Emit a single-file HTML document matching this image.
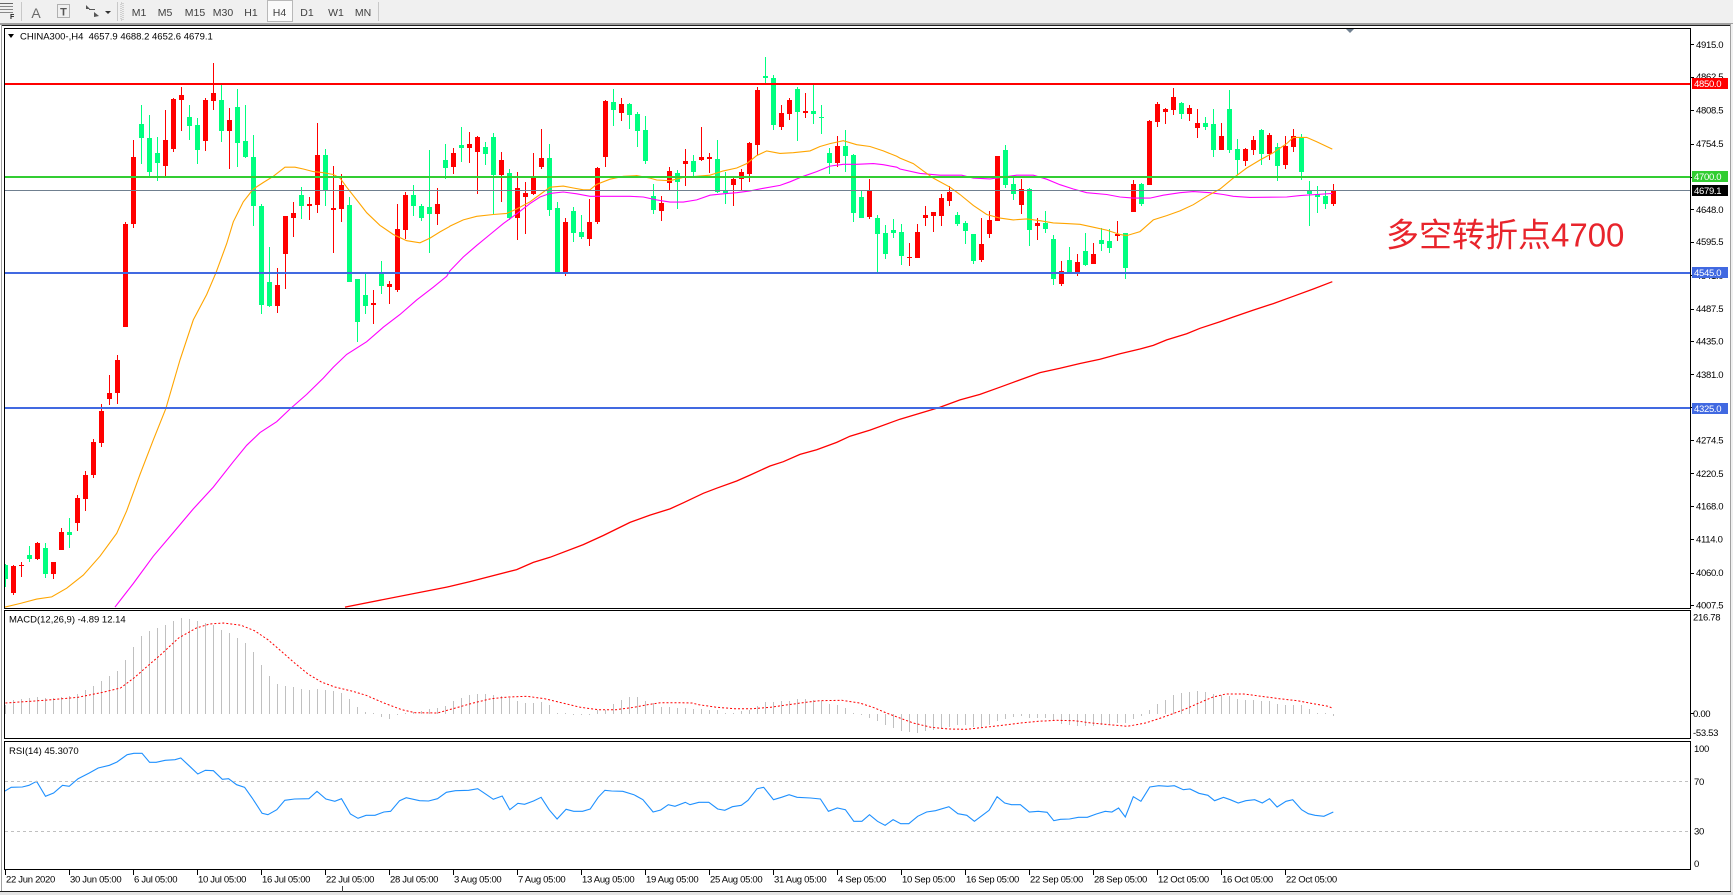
<!DOCTYPE html>
<html><head><meta charset="utf-8"><title>CHINA300 H4</title>
<style>
html,body{margin:0;padding:0;background:#fff;}
body{width:1733px;height:895px;overflow:hidden;}
svg{display:block;font-family:"Liberation Sans","Noto Sans CJK SC",sans-serif;}
.s{font-size:9.5px;letter-spacing:-0.3px;fill:#000;}
.w{font-size:9.5px;letter-spacing:-0.3px;fill:#fff;}
.tb{font-size:10.5px;fill:#404040;text-anchor:middle;}
</style></head>
<body>
<svg id="s" width="1733" height="895" viewBox="0 0 1733 895" xmlns="http://www.w3.org/2000/svg">
<defs>
<clipPath id="cm"><rect x="5" y="29" width="1685" height="579"/></clipPath>
<clipPath id="cd"><rect x="5" y="611" width="1685" height="127"/></clipPath>
<clipPath id="cr"><rect x="5" y="742" width="1685" height="127"/></clipPath>
</defs>
<!-- toolbar -->
<rect x="0" y="0" width="1733" height="23" fill="#F0F0F0"/>
<rect x="0" y="23" width="1733" height="1" fill="#A0A0A0"/>
<g fill="#555">
<rect x="0" y="3" width="13" height="1" fill="#666"/><rect x="0" y="6" width="13" height="1" fill="#888"/><rect x="0" y="9" width="13" height="1" fill="#888"/><rect x="0" y="12" width="13" height="1" fill="#888"/>
</g>
<text x="10" y="19" style="font-size:7px;font-weight:bold;fill:#222">F</text>
<rect x="21" y="2" width="1" height="19" fill="#C8C8C8"/>
<text x="36" y="18" style="font-size:14px;fill:#6a6a6a;text-anchor:middle">A</text>
<rect x="57.5" y="4.5" width="12" height="13" fill="none" stroke="#707070" stroke-dasharray="1 1"/>
<text x="63.5" y="15.5" style="font-size:11px;font-weight:bold;fill:#555;text-anchor:middle">T</text>
<polygon points="86,5 90,9 86,9" fill="#555"/><polygon points="94,12 99,16 94,17" fill="#555"/><rect x="89" y="9" width="6" height="1" fill="#555"/>
<polygon points="105,11 111,11 108,14" fill="#333"/>
<rect x="117" y="2" width="1" height="19" fill="#C8C8C8"/>
<rect x="121" y="3" width="2" height="17" fill="none" stroke="#B0B0B0" stroke-dasharray="1 1"/>
<rect x="267.5" y="0.5" width="25" height="21" fill="#FAFAFA" stroke="#B8B8B8"/>
<text class="tb" x="139" y="16">M1</text>
<text class="tb" x="165" y="16">M5</text>
<text class="tb" x="195" y="16">M15</text>
<text class="tb" x="223" y="16">M30</text>
<text class="tb" x="251" y="16">H1</text>
<text class="tb" x="279.5" y="16">H4</text>
<text class="tb" x="307" y="16">D1</text>
<text class="tb" x="336" y="16">W1</text>
<text class="tb" x="363" y="16">MN</text>
<rect x="378" y="2" width="1" height="19" fill="#C8C8C8"/>
<!-- window frame -->
<rect x="0" y="24" width="1733" height="1" fill="#A0A0A0"/>
<rect x="2" y="25" width="1729" height="1" fill="#202020"/>
<rect x="1" y="24" width="1" height="868" fill="#A0A0A0"/>
<rect x="1730" y="24" width="1" height="868" fill="#A0A0A0"/>
<rect x="1731" y="24" width="2" height="871" fill="#F0F0F0"/>
<!-- panels -->
<rect x="4.5" y="28.5" width="1686" height="580" fill="none" stroke="#000"/>
<rect x="4.5" y="610.5" width="1686" height="128" fill="none" stroke="#000"/>
<rect x="4.5" y="741.5" width="1686" height="128" fill="none" stroke="#000"/>
<!-- bottom -->
<rect x="0" y="891" width="1731" height="1" fill="#202020"/>
<rect x="0" y="892" width="1733" height="3" fill="#E4E4E4"/>
<rect x="342" y="886" width="1" height="6" fill="#404040"/>
<!-- shift marker -->
<polygon points="1346,29 1354,29 1350,33" fill="#708090"/>
<g id="dyn"></g>
<!-- horizontal lines -->
<rect x="5" y="83" width="1685" height="2" fill="#FF0000"/>
<rect x="5" y="176" width="1685" height="2" fill="#32CD32"/>
<rect x="5" y="190" width="1685" height="1" fill="#708090"/>
<rect x="5" y="272" width="1685" height="2" fill="#4169E1"/>
<rect x="5" y="407" width="1685" height="2" fill="#4169E1"/>
<!-- title -->
<polygon points="8,34 14,34 11,38" fill="#000"/>
<text class="s" x="20" y="39.5" style="letter-spacing:0" xml:space="preserve">CHINA300-,H4  4657.9 4688.2 4652.6 4679.1</text>
<text x="9" y="622.7" class="s" style="letter-spacing:0">MACD(12,26,9) -4.89 12.14</text>
<text x="9" y="754" class="s" style="letter-spacing:0">RSI(14) 45.3070</text>
<!-- annotation -->
<text x="1386" y="246.5" style="font-family:'Liberation Sans','Noto Sans CJK SC',sans-serif;font-size:33px;fill:#E8242C">多空转折点4700</text>
<!-- price axis -->
<g id="axis"></g>
<rect x="1692" y="78" width="36" height="11" fill="#FF0000"/><text class="w" x="1694" y="87">4850.0</text>
<rect x="1692" y="171" width="36" height="11" fill="#32CD32"/><text class="w" x="1694" y="180">4700.0</text>
<rect x="1692" y="185" width="36" height="11" fill="#000"/><text class="w" x="1694" y="194">4679.1</text>
<rect x="1692" y="267" width="36" height="11" fill="#4169E1"/><text class="w" x="1694" y="276">4545.0</text>
<rect x="1692" y="403" width="36" height="11" fill="#4169E1"/><text class="w" x="1694" y="412">4325.0</text>
<!-- sub axes -->
<text class="s" x="1693" y="620.5">216.78</text>
<rect x="1690" y="713" width="4" height="1" fill="#000"/>
<text class="s" x="1693" y="716.8">0.00</text>
<text class="s" x="1693" y="735.8">-53.53</text>
<text class="s" x="1694" y="751.8">100</text>
<text class="s" x="1694" y="785.2">70</text>
<text class="s" x="1694" y="834.5">30</text>
<text class="s" x="1694" y="866.8">0</text>
<rect x="5" y="781" width="1685" height="1" fill="none"/>
<line x1="5" y1="781.5" x2="1690" y2="781.5" stroke="#C0C0C0" stroke-dasharray="3 3"/>
<line x1="5" y1="831.5" x2="1690" y2="831.5" stroke="#C0C0C0" stroke-dasharray="3 3"/>
<g id="dates"></g>
</svg>
<script>
(function(){
var NS='http://www.w3.org/2000/svg';
function el(t,a,p){var e=document.createElementNS(NS,t);for(var k in a)e.setAttribute(k,a[k]);if(p)p.appendChild(e);return e;}
var dyn=document.getElementById('dyn');
var Z=1568/570;
function fy(z){return 40+z/Z;}
function fy2(z){return 608+z/3;}
var C=[
[0,1442,1445,1482,1505],[1,1443,1447,1520,1527],[1,1437,1443,1448,1477],[0,1392,1418,1427,1435],[1,1380,1383,1427,1430],
[0,1385,1398,1468,1480],[1,1437,1437,1468,1482],[1,1342,1353,1403,1403],[0,1315,1353,1363,1397],[1,1253,1260,1330,1350],
[1,1187,1197,1262,1297],[1,1098,1105,1197,1205],[1,1000,1020,1108,1120],[1,922,970,987,1005],[1,867,880,970,1000],
[1,502,505,790,790],[1,275,322,505,517],[0,180,232,270,340],[0,205,270,363,375],[0,268,312,337,387],
[1,193,275,347,375],[1,160,162,300,308],[1,130,150,165,250],[0,180,212,237,275],[0,215,235,302,340],
[1,160,165,277,305],[1,62,147,167,192],[0,125,165,250,280],[1,187,220,250,355],[0,135,184,283,350],
[0,180,278,322,325],[0,262,322,457,513],[0,452,457,728,755],[0,570,665,733,735],[1,628,675,733,750],
[1,483,484,590,685],[1,447,476,490,542],[0,405,427,458,492],[1,432,452,458,495],[1,228,315,453,475],
[0,300,315,413,457],[1,347,462,467,585],[1,368,400,465,500],[0,432,455,667,667],[0,657,657,777,830],
[0,642,702,732,753],[1,688,723,730,782],[0,608,640,677,700],[1,662,672,679,725],[1,452,520,688,692],
[1,418,427,523,547],[0,400,427,458,485],[0,450,458,490,497],[0,303,460,480,585],[1,408,450,480,508],
[0,287,330,353,383],[1,298,312,350,368],
[0,240,290,297,335],[1,253,287,297,338],[1,265,267,307,425],[0,280,295,313,343],[0,257,268,370,480],
[1,308,330,370,447],[0,355,367,490,495],[1,363,408,490,550],[1,390,422,433,535],[1,312,380,425,427],
[1,245,325,348,355],[0,287,325,467,483],[0,447,462,640,640],[1,490,502,640,650],[0,460,470,532,557],
[0,482,528,542,547],[1,437,502,548,567],[1,348,352,502,505],[1,165,168,322,348],[0,135,170,193,237],
[1,160,177,200,222],[0,173,177,205,245],[0,198,203,250,293],[0,210,248,332,340],[0,397,430,468,480],
[1,430,448,470,497],[1,348,360,393,412],[0,358,365,390,465],[1,300,333,340,402],[0,317,333,362,375],
[1,240,322,330,333],[1,312,323,327,365],[0,275,328,417,420],[0,362,415,422,450],[1,378,382,398,458],
[1,355,363,383,412],[1,280,283,368,390],[1,128,138,288,315],[0,47,100,105,117],[0,95,105,233,247],
[1,180,202,240,248],[1,160,165,203,220],[0,130,135,197,277],[1,147,195,200,215],[0,117,195,203,232],
[0,180,212,215,258],[0,297,312,337,368],[1,265,292,337,348],[0,248,292,318,362],[0,313,315,475,500],
[0,415,432,490,490],[1,382,415,487,492],[0,482,490,533,645],[0,510,532,590,602],[0,492,523,530,545],
[0,507,528,593,618],
[1,558,597,599,622],[1,507,528,600,600],[1,458,482,490,512],[1,473,473,483,527],[1,425,435,483,512],
[1,403,418,442,458],[0,473,482,505,513],[0,497,503,525,560],[0,535,535,607,615],[1,490,562,605,612],
[1,470,495,535,545],[1,320,320,497,497],[0,290,303,398,407],[0,378,397,425,440],[1,383,410,453,480],
[0,407,410,523,567],[1,490,503,512,550],[0,470,503,520,530],[0,537,548,657,673],[1,608,635,670,677],
[0,570,605,637,637],[1,590,612,637,648],[0,530,580,620,622],[1,558,590,617,617],[0,518,550,560,580],
[0,520,553,572,585],[1,498,533,538,553],[0,530,532,627,657],[1,385,397,472,472],[0,393,397,450,458],
[1,220,223,398,398],[1,170,177,225,238],[1,187,190,197,230],[1,132,158,192,205],[0,170,172,203,217],
[1,180,188,203,222],[1,190,228,243,270],[0,212,228,240,248],[0,190,230,302,322],[1,228,265,302,302],
[0,138,190,302,312],[0,272,300,330,372],[1,297,300,332,347],[1,265,275,302,315],[0,245,248,313,343],
[1,255,262,313,330],[0,283,293,347,388],[1,265,292,343,355],[1,245,265,293,307],[0,258,267,363,385],
[0,388,415,425,513],[0,402,425,433,475],[0,415,430,450,465],[1,397,413,450,458]
];
var gm=el('g',{'clip-path':'url(#cm)','shape-rendering':'crispEdges'},dyn);
for(var i=0;i<C.length;i++){
 var c=C[i],cx=5+8*i,col=c[0]?'#FF0000':'#00FF7F';
 var wt=Math.round(fy(c[1])),wb=Math.round(fy(c[4]));
 el('rect',{x:cx,y:wt,width:1,height:Math.max(1,wb-wt),fill:col},gm);
 var bt=Math.round(fy(c[2])),bb=Math.round(fy(c[3]));
 el('rect',{x:cx-2,y:bt,width:5,height:Math.max(1,bb-bt),fill:col},gm);
}
function mp(strips){var out=[];for(var s=0;s<strips.length;s++){var a=strips[s];for(var j=0;j<a.length;j++){out.push((s*450+a[j][0]/3).toFixed(1)+','+fy(a[j][1]).toFixed(1));}}return out.join(' ');}
var gl=el('g',{'clip-path':'url(#cm)',fill:'none'},dyn);
var OR=[
[[15,1560],[60,1550],[110,1538],[155,1532],[200,1508],[250,1472],[300,1420],[350,1357],[380,1295],[420,1195],[460,1100],[497,1015],[540,880],[580,770],[620,700],[648,640],[680,560],[700,500],[730,445],[760,410],[790,392],[820,375],[855,350],[885,350],[910,355],[940,362],[970,365],[1000,370],[1020,380],[1040,405],[1070,440],[1100,475],[1140,510],[1180,535],[1220,552],[1260,558],[1290,545],[1320,528],[1349,513]],
[[0,512],[40,495],[80,485],[130,480],[170,477],[200,465],[240,445],[270,425],[300,405],[340,402],[370,407],[400,412],[420,412],[440,397],[480,383],[520,375],[560,373],[600,380],[620,385],[660,387],[700,378],[740,375],[780,372],[820,360],[860,352],[890,340],[920,318],[950,305],[990,312],[1030,310],[1080,305],[1110,293],[1140,285],[1180,277],[1220,288],[1260,293],[1300,305],[1340,320]],
[[0,325],[40,340],[70,360],[100,380],[150,405],[180,425],[220,455],[260,480],[300,490],[340,495],[380,492],[420,497],[460,503],[500,505],[540,507],[580,515],[620,523],[660,535],[680,538],[720,527],[760,495],[800,483],[840,470],[880,453],[920,430],[960,410],[1000,380],[1040,352],[1080,330],[1120,310],[1160,285],[1180,268],[1220,268],[1250,280],[1297,300]]
];
var MG=[
[[345,1560],[400,1495],[460,1420],[520,1355],[580,1290],[640,1230],[700,1160],[740,1115],[780,1080],[830,1050],[870,1015],[920,975],[970,930],[1000,900],[1040,865],[1100,830],[1150,790],[1200,755],[1250,715],[1300,680],[1340,650]],
[[0,635],[40,597],[80,565],[120,535],[160,505],[200,478],[240,450],[270,432],[300,422],[340,418],[380,423],[420,430],[460,430],[540,430],[580,432],[620,440],[660,446],[700,446],[740,440],[780,427],[820,423],[860,420],[900,415],[940,408],[990,400],[1020,390],[1060,375],[1100,362],[1140,347],[1180,342],[1220,342],[1270,340],[1300,343],[1340,350]],
[[0,355],[60,367],[120,372],[185,372],[220,380],[270,382],[290,380],[350,372],[400,372],[440,383],[480,398],[520,410],[560,420],[620,425],[660,432],[700,435],[750,435],[790,427],[840,420],[880,417],[930,420],[970,425],[1000,430],[1050,433],[1160,432],[1200,428],[1250,425],[1297,422]]
];
var RD=[
[[1035,1560],[1340,1505]],
[[0,1503],[60,1490],[200,1457],[250,1437],[300,1423],[400,1388],[460,1363],[540,1327],[600,1307],[660,1290],[700,1273],[760,1247],[800,1233],[860,1213],[900,1197],[960,1172],[1000,1160],[1050,1140],[1100,1127],[1160,1107],[1200,1090],[1260,1073],[1320,1053]],
[[0,1043],[60,1027],[120,1010],[180,990],[240,975],[300,955],[360,935],[420,915],[480,903],[540,890],[600,878],[660,863],[720,850],[760,840],[800,825],[860,808],[900,793],[960,775],[1000,762],[1060,743],[1120,725],[1180,705],[1240,685],[1297,665]]
];
el('polyline',{points:mp(RD),stroke:'#FF0000','stroke-width':1.3},gl);
el('polyline',{points:mp(MG),stroke:'#FF00FF','stroke-width':1.1},gl);
el('polyline',{points:mp(OR),stroke:'#FFA500','stroke-width':1.1},gl);
// MACD
var M=[290,275,272,270,268,270,270,268,265,258,245,233,218,205,188,155,117,85,70,60,50,40,30,33,40,45,50,65,75,90,105,132,170,205,228,235,237,242,245,243,245,250,255,272,297,312,316,326,332,322,316,312,308,303,300,295,280,270,262,258,258,262,265,270,278,285,285,282,290,315,316,318,322,320,305,305,288,275,268,268,280,285,297,297,300,300,
302,303,305,306,315,316,310,305,295,283,282,280,278,273,272,275,280,288,292,300,316,320,330,340,352,360,368,372,374,368,365,362,358,352,352,358,358,352,340,332,328,325,330,330,330,340,348,352,355,355,353,350,347,345,345,333,325,305,288,275,262,255,252,250,253,258,262,265,272,275,275,278,280,288,290,290,292,303,316,316,323];
var gd=el('g',{'clip-path':'url(#cd)','shape-rendering':'crispEdges'},dyn);
var zero=714;
for(var i=0;i<M.length;i++){
 var v=Math.round(fy2(M[i])),cx=5+8*i;
 if(v<zero)el('rect',{x:cx,y:v,width:1,height:zero-v,fill:'#C0C0C0'},gd);
 else el('rect',{x:cx,y:zero,width:1,height:Math.max(1,v-zero),fill:'#C0C0C0'},gd);
}
function sp(a,b){var o=[];a.forEach(function(p){o.push((p[0]/2.24).toFixed(1)+','+fy2(p[1]).toFixed(1));});b.forEach(function(p){o.push((690+p[0]/2.24).toFixed(1)+','+fy2(p[1]).toFixed(1));});return o.join(' ');}
var S10=[[12,285],[100,277],[175,268],[230,253],[270,240],[300,210],[330,175],[360,140],[400,90],[440,60],[470,48],[500,45],[540,52],[570,68],[600,95],[630,130],[660,165],[690,198],[720,222],[750,237],[790,250],[820,262],[860,285],[900,305],[930,314],[980,315],[1020,300],[1060,285],[1100,272],[1140,267],[1180,265],[1220,272],[1260,285],[1300,298],[1340,305],[1380,305],[1420,298],[1450,290],[1480,284],[1520,284],[1550,285]];
var S11=[[20,290],[60,298],[100,302],[140,302],[180,298],[220,290],[260,283],[290,278],[340,277],[380,285],[410,298],[440,315],[470,330],[500,345],[540,358],[580,363],[620,364],[660,358],[700,352],[740,345],[780,340],[820,337],[860,338],[900,345],[940,350],[980,355],[1020,345],[1050,332],[1080,318],[1110,303],[1140,285],[1170,268],[1200,258],[1240,258],[1280,265],[1320,272],[1360,278],[1400,288],[1430,295],[1441,302]];
el('polyline',{points:sp(S10,S11),fill:'none',stroke:'#FF0000','stroke-width':1,'stroke-dasharray':'2 2'},el('g',{'clip-path':'url(#cd)'},dyn));
// RSI
var R10=[[10,550],[25,538],[50,537],[65,532],[82,520],[102,565],[120,555],[140,532],[155,535],[175,512],[200,495],[220,480],[245,472],[262,462],[285,440],[300,436],[318,436],[335,463],[350,463],[370,457],[392,455],[405,450],[425,475],[443,498],[460,487],[478,488],[498,514],[512,512],[530,530],[548,538],[565,570],[587,616],[600,620],[620,605],[638,577],[660,573],[692,572],[710,550],[730,573],[750,580],[765,572],[785,618],[802,631],[820,622],[840,622],[860,612],[875,610],[895,578],[910,569],[940,578],[960,579],[980,572],[1000,553],[1020,548],[1050,547],[1070,542],[1090,560],[1105,574],[1125,564],[1142,605],[1160,586],[1175,589],[1195,579],[1212,568],[1230,605],[1248,633],[1268,604],[1285,610],[1305,610],[1322,603],[1340,568],[1355,547],[1370,549],[1395,550],[1420,560],[1440,575],[1463,612],[1480,606],[1497,590],[1512,595],[1535,583]];
var R11=[[0,590],[20,583],[42,583],[62,603],[78,607],[95,596],[115,592],[130,577],[150,542],[165,538],[187,575],[205,568],[222,560],[240,568],[270,570],[292,573],[310,610],[330,600],[348,605],[367,640],[385,640],[402,620],[420,640],[437,652],[455,635],[472,647],[490,647],[510,625],[530,612],[550,608],[580,596],[600,617],[620,622],[637,640],[655,622],[670,607],[688,566],[705,585],[720,590],[740,590],[760,612],[780,610],[800,613],[815,638],[830,634],[850,633],[870,628],[890,628],[910,618],[930,610],[945,612],[960,600],[975,627],[993,566],[1010,580],[1030,537],[1050,533],[1070,535],[1085,533],[1105,545],[1120,543],[1140,556],[1160,562],[1175,578],[1195,568],[1210,575],[1228,585],[1245,578],[1265,575],[1282,585],[1298,572],[1315,597],[1335,580],[1350,575],[1370,605],[1385,617],[1400,622],[1420,625],[1441,612]];
el('polyline',{points:sp(R10,R11),fill:'none',stroke:'#1E90FF','stroke-width':1.1},el('g',{'clip-path':'url(#cr)'},dyn));
// price axis
var ax=document.getElementById('axis');
var L=[["4915.0",44.3],["4862.5",76.7],["4808.5",110.1],["4754.5",143.5],["4700.0",177.1],["4648.0",209.3],["4595.5",241.7],["4541.0",275.4],["4487.5",308.5],["4435.0",341.0],["4381.0",374.3],["4327.5",407.3],["4274.5",440.1],["4220.5",473.4],["4168.0",505.9],["4114.0",539.2],["4060.0",572.6],["4007.5",605.0]];
L.forEach(function(l){
 el('rect',{x:1690,y:Math.round(l[1]),width:4,height:1,fill:'#000'},ax);
 var t=el('text',{x:1696,y:(l[1]+3.5).toFixed(1),'class':'s'},ax);t.textContent=l[0];
});
// dates
var D=["22 Jun 2020","30 Jun 05:00","6 Jul 05:00","10 Jul 05:00","16 Jul 05:00","22 Jul 05:00","28 Jul 05:00","3 Aug 05:00","7 Aug 05:00","13 Aug 05:00","19 Aug 05:00","25 Aug 05:00","31 Aug 05:00","4 Sep 05:00","10 Sep 05:00","16 Sep 05:00","22 Sep 05:00","28 Sep 05:00","12 Oct 05:00","16 Oct 05:00","22 Oct 05:00"];
var dg=document.getElementById('dates');
D.forEach(function(d,k){
 var x=5+64*k;
 el('rect',{x:x,y:870,width:1,height:5,fill:'#000'},dg);
 var t=el('text',{x:x+1,y:882.5,'class':'s'},dg);t.textContent=d;
});
})();
</script>
</body></html>
